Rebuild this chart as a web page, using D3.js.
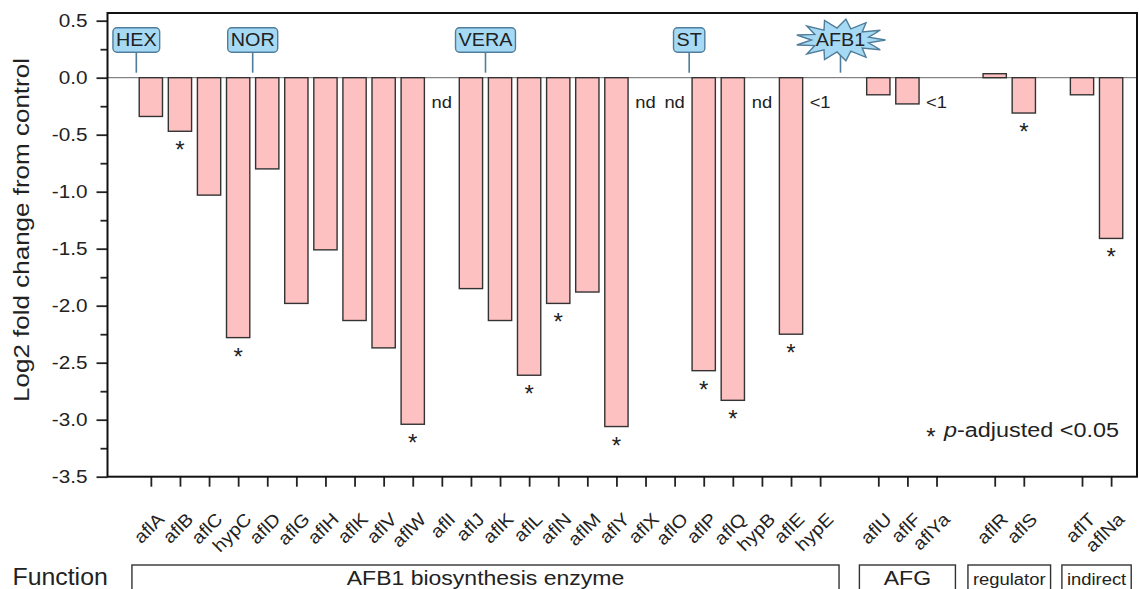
<!DOCTYPE html>
<html>
<head>
<meta charset="utf-8">
<script src="https://cdn.jsdelivr.net/npm/d3@7"></script>
<style>
  body { margin: 0; background: #fff; }
  svg { display: block; font-family: "Liberation Sans", Arial, sans-serif; }
</style>
</head>
<body>
<div id="chart"></div>
<script>
// ── Data ─────────────────────────────────────────────────────
const groups = ['AFB1 biosynthesis enzyme', 'AFG', 'regulator', 'indirect'];
const groupFont = [20, 20, 16, 16];

const genes = [
  'aflA', 'aflB', 'aflC', 'hypC', 'aflD', 'aflG', 'aflH', 'aflK', 'aflV', 'aflW',
  'aflI', 'aflJ', 'aflK', 'aflL', 'aflN', 'aflM', 'aflY', 'aflX', 'aflO', 'aflP',
  'aflQ', 'hypB', 'aflE', 'hypE',
  'aflU', 'aflF', 'aflYa',
  'aflR', 'aflS',
  'aflT', 'aflNa'
];
const geneGroup = [
  0, 0, 0, 0, 0, 0, 0, 0, 0, 0,
  0, 0, 0, 0, 0, 0, 0, 0, 0, 0,
  0, 0, 0, 0,
  1, 1, 1,
  2, 2,
  3, 3
];
// log2 fold change (null = not shown)
const log2fc = [
  -0.34, -0.47, -1.03, -2.28, -0.80, -1.98, -1.51, -2.13, -2.37, -3.04,
  null, -1.85, -2.13, -2.61, -1.98, -1.88, -3.06, null, null, -2.57,
  -2.83, null, -2.25, null,
  -0.15, -0.23, null,
  0.035, -0.31,
  -0.15, -1.41
];
const notes = [
  '', '', '', '', '', '', '', '', '', '',
  'nd', '', '', '', '', '', '', 'nd', 'nd', '',
  '', 'nd', '', '<1',
  '', '', '<1',
  '', '',
  '', ''
];
const significant = [
  0, 1, 0, 1, 0, 0, 0, 0, 0, 1,
  0, 0, 0, 1, 1, 0, 1, 0, 0, 1,
  1, 0, 1, 0,
  0, 0, 0,
  0, 1,
  0, 1
];
// pathway intermediates, placed along the gene axis (slot units)
const pathwayLabels = ['HEX', 'NOR', 'VERA', 'ST', 'AFB1'];
const pathwayAt = [-0.5, 3.5, 11.5, 18.5, 23.7];

const yTicks = [0.5, 0.0, -0.5, -1.0, -1.5, -2.0, -2.5, -3.0, -3.5];
const yMinor = [0.25, -0.25, -0.75, -1.25, -1.75, -2.25, -2.75, -3.25];

// ── Layout ───────────────────────────────────────────────────
const W = 1139, H = 589;
const plot = { left: 107.5, right: 1137, top: 13, bottom: 476.7 };
const ink = '#222';
const k = 1.15; // the figure's type runs a bit wider than Arial

// slot index per gene: one empty slot between function groups
const slots = [];
let s = 0;
genes.forEach((g, i) => {
  if (i > 0 && geneGroup[i] !== geneGroup[i - 1]) s += 1;
  slots.push(s);
  s += 1;
});

const x = d3.scaleLinear().domain([-1.49, 33.89]).range([plot.left, plot.right]);
const y = d3.scaleLinear().domain([-3.5, 0.5675]).range([plot.bottom, plot.top]);
const bw = (x(1) - x(0)) * 0.8;

const svg = d3.select('#chart').append('svg')
  .attr('width', W).attr('height', H);

function widen(sel, f) {
  sel.each(function () {
    const len = this.getComputedTextLength();
    d3.select(this).attr('textLength', len * f).attr('lengthAdjust', 'spacingAndGlyphs');
  });
}

// ── Zero line ────────────────────────────────────────────────
svg.append('line')
  .attr('x1', plot.left).attr('x2', plot.right)
  .attr('y1', y(0)).attr('y2', y(0))
  .attr('stroke', '#666').attr('stroke-width', 1);

// ── Bars ─────────────────────────────────────────────────────
const rows = genes.map((g, i) => ({
  gene: g, slot: slots[i], v: log2fc[i], note: notes[i], sig: significant[i]
}));

svg.append('g').selectAll('rect')
  .data(rows.filter(d => d.v !== null))
  .join('rect')
  .attr('x', d => x(d.slot) - bw / 2)
  .attr('width', bw)
  .attr('y', d => y(Math.max(0, d.v)))
  .attr('height', d => Math.abs(y(d.v) - y(0)))
  .attr('fill', '#fec1c1')
  .attr('stroke', '#333')
  .attr('stroke-width', 1.4);

// significance stars
svg.append('g').selectAll('text')
  .data(rows.filter(d => d.sig && d.v !== null))
  .join('text')
  .attr('x', d => x(d.slot))
  .attr('y', d => y(Math.min(0, d.v)) + 27)
  .attr('text-anchor', 'middle')
  .attr('font-size', 24)
  .attr('fill', ink)
  .text('*');

// nd / <1 notes
svg.append('g').selectAll('text')
  .data(rows.filter(d => d.note))
  .join('text')
  .attr('x', d => x(d.slot))
  .attr('y', y(0) + 30)
  .attr('text-anchor', 'middle')
  .attr('font-size', 17)
  .attr('fill', ink)
  .text(d => d.note)
  .call(widen, 1.08);

// ── Axes ─────────────────────────────────────────────────────
const yAxis = svg.append('g')
  .attr('transform', `translate(${plot.left},0)`)
  .call(d3.axisLeft(y).tickValues(yTicks).tickSize(11).tickPadding(9)
    .tickFormat(d => (Math.abs(d) < 1e-9 ? 0 : d).toFixed(1)));
yAxis.select('.domain').remove();
yAxis.selectAll('line').attr('stroke', ink).attr('stroke-width', 1.8);
yAxis.selectAll('text').attr('font-size', 18).attr('fill', ink)
  .attr('font-family', '"Liberation Sans", Arial, sans-serif')
  .call(widen, k);

const yMinorAxis = svg.append('g')
  .attr('transform', `translate(${plot.left},0)`)
  .call(d3.axisLeft(y).tickValues(yMinor).tickSize(7).tickFormat(''));
yMinorAxis.select('.domain').remove();
yMinorAxis.selectAll('line').attr('stroke', ink).attr('stroke-width', 1.8);

const xAxis = svg.append('g')
  .attr('transform', `translate(0,${plot.bottom})`)
  .call(d3.axisBottom(x).tickValues(slots).tickSize(10).tickFormat(''));
xAxis.select('.domain').remove();
xAxis.selectAll('line').attr('stroke', ink).attr('stroke-width', 1.8);

// rotated gene labels
svg.append('g').selectAll('text')
  .data(rows)
  .join('text')
  .attr('transform', d => `translate(${x(d.slot) + 10},516) rotate(-45)`)
  .attr('text-anchor', 'end')
  .attr('dy', '0.35em')
  .attr('font-size', 18)
  .attr('fill', ink)
  .text(d => d.gene)
  .call(widen, 1.1);

// frame
svg.append('rect')
  .attr('x', plot.left).attr('y', plot.top)
  .attr('width', plot.right - plot.left).attr('height', plot.bottom - plot.top)
  .attr('fill', 'none').attr('stroke', '#111').attr('stroke-width', 2);

// y title
svg.append('text')
  .attr('transform', `translate(29,230) rotate(-90)`)
  .attr('text-anchor', 'middle')
  .attr('font-size', 22)
  .attr('fill', ink)
  .attr('textLength', 344).attr('lengthAdjust', 'spacingAndGlyphs')
  .text('Log2 fold change from control');

// ── Pathway intermediates ────────────────────────────────────
const boxFill = '#a6daf4', boxStroke = '#4f7d9b';
const lblY = 40, stemEnd = y(0) - 5;

pathwayLabels.forEach((lab, i) => {
  const cx = x(pathwayAt[i]);
  const g = svg.append('g');
  if (lab === 'AFB1') {
    // starburst for the end product
    const n = 13, rx0 = 45, ry0 = 21, rx1 = 29, ry1 = 12;
    const pts = d3.range(2 * n).map(j => {
      const a = j * Math.PI / n;
      const o = j % 2 === 0;
      return [cx + Math.cos(a) * (o ? rx0 : rx1), lblY + Math.sin(a) * (o ? ry0 : ry1)];
    });
    g.append('line')
      .attr('x1', cx).attr('x2', cx).attr('y1', lblY + ry1).attr('y2', stemEnd)
      .attr('stroke', boxStroke).attr('stroke-width', 1.6);
    g.append('path')
      .attr('d', d3.line().curve(d3.curveLinearClosed)(pts))
      .attr('fill', boxFill).attr('stroke', boxStroke).attr('stroke-width', 1.4);
    g.append('text')
      .attr('x', cx).attr('y', lblY).attr('dy', '0.35em')
      .attr('text-anchor', 'middle').attr('font-size', 18).attr('fill', ink)
      .text(lab).call(widen, 1.1);
  } else {
    const stem = g.append('line')
      .attr('x1', cx).attr('x2', cx).attr('y1', lblY + 12.3).attr('y2', stemEnd)
      .attr('stroke', boxStroke).attr('stroke-width', 1.6);
    const box = g.append('rect')
      .attr('y', lblY - 12.3).attr('height', 24.6)
      .attr('rx', 4)
      .attr('fill', boxFill).attr('stroke', boxStroke).attr('stroke-width', 1.4);
    const t = g.append('text')
      .attr('x', cx).attr('y', lblY).attr('dy', '0.35em')
      .attr('text-anchor', 'middle').attr('font-size', 18).attr('fill', ink)
      .text(lab).call(widen, 1.1);
    const tw = +t.attr('textLength');
    box.attr('x', cx - tw / 2 - 3).attr('width', tw + 6);
  }
});

// ── Legend ───────────────────────────────────────────────────
svg.append('text')
  .attr('x', 931).attr('y', 445)
  .attr('text-anchor', 'middle').attr('font-size', 24).attr('fill', ink)
  .text('*');
const leg = svg.append('text')
  .attr('x', 944).attr('y', 436.5)
  .attr('font-size', 20).attr('fill', ink)
  .attr('textLength', 175).attr('lengthAdjust', 'spacingAndGlyphs');
leg.append('tspan').attr('font-style', 'italic').text('p');
leg.append('tspan').text('-adjusted <0.05');

// ── Function groups ──────────────────────────────────────────
svg.append('text')
  .attr('x', 12.5).attr('y', 585)
  .attr('font-size', 23).attr('fill', ink)
  .text('Function').call(widen, 1.08);

const groupLayer = svg.append('g');
groups.forEach((name, gi) => {
  const gs = slots.filter((sl, i) => geneGroup[i] === gi);
  const mid = x((d3.min(gs) + d3.max(gs)) / 2);
  const box = groupLayer.append('rect')
    .attr('y', 565).attr('height', 40)
    .attr('fill', 'none').attr('stroke', '#333').attr('stroke-width', 1.4);
  const t = groupLayer.append('text')
    .attr('x', mid).attr('y', 585)
    .attr('text-anchor', 'middle')
    .attr('font-size', groupFont[gi]).attr('fill', ink)
    .text(name).call(widen, k);
  const tw = +t.attr('textLength');
  const half = Math.max((x(d3.max(gs)) - x(d3.min(gs))) / 2 + (x(0.65) - x(0)), tw / 2 + 5);
  box.attr('x', mid - half).attr('width', half * 2);
});
</script>
</body>
</html>
